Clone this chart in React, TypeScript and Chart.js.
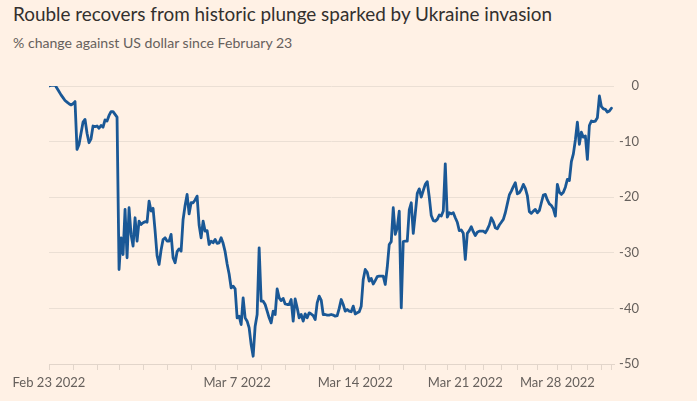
import React, { useEffect, useRef } from "react";
import { Chart, registerables } from "chart.js";

Chart.register(...registerables);

const TITLE = "Rouble recovers from historic plunge sparked by Ukraine invasion";
const SUBTITLE = "% change against US dollar since February 23";

// Trading days shown on the x axis (one tick at the start of each day)
const dayLabels = [
  "Feb 23 2022", "Feb 24 2022", "Feb 25 2022", "Feb 28 2022", "Mar 1 2022",
  "Mar 2 2022", "Mar 3 2022", "Mar 4 2022", "Mar 7 2022", "Mar 8 2022",
  "Mar 9 2022", "Mar 10 2022", "Mar 11 2022", "Mar 14 2022", "Mar 15 2022",
  "Mar 16 2022", "Mar 17 2022", "Mar 18 2022", "Mar 21 2022", "Mar 22 2022",
  "Mar 23 2022", "Mar 24 2022", "Mar 25 2022", "Mar 28 2022", "Mar 29 2022",
  "Mar 30 2022", "Mar 31 2022", "Apr 1 2022",
];

// Day labels that are printed under the axis
const shownLabels = ["Feb 23 2022", "Mar 7 2022", "Mar 14 2022", "Mar 21 2022", "Mar 28 2022"];

// y-axis tick values (% change)
const yTicks = [0, -10, -20, -30, -40, -50];

// Intraday % change against the US dollar, one list per trading day
const dayValues: number[][] = [
  [0, 0.1, 0.1, 0.2, -0.4, -1.0, -1.6, -2.1, -2.6, -2.9, -3.2, -3.4], // Feb 23
  [-3.2, -2.8, -11.4, -10.5, -8.5, -6.5, -6.0, -8.5, -10.2, -9.5, -7.2, -7.3], // Feb 24
  [-7.2, -7.6, -7.1, -7.4, -6.1, -6.3, -5.3, -4.6, -4.6, -5.1, -5.6], // Feb 25
  [-33, -27.3, -30.3, -22.2, -30.9, -21.9, -26.7, -28.8, -23.7, -27.9, -24.3, -24.9], // Feb 28
  [-24.6, -24.4, -24.5, -20.7, -22.5, -22, -26, -30.5, -32.1, -29.5, -27.6, -27.3], // Mar 1
  [-27.9, -27.9, -26.7, -30.9, -31.8, -29.8, -29.3, -29.7, -24, -21.5, -19.5, -23], // Mar 2
  [-21.0, -21, -20.5, -19.8, -25, -27.3, -24.3, -26.1, -26, -28.5, -27.9, -28.2], // Mar 3
  [-27.6, -28.3, -28.2, -27.3, -28.3, -29.8, -32, -33.8, -36.3, -36, -36.5], // Mar 4
  [-41.7, -41.4, -42.9, -38.1, -41.7, -42.3, -43.5, -46.5, -48.6, -43.2, -41.1, -29.1], // Mar 7
  [-38.7, -38.7, -39.3, -40.5, -41.7, -42.6, -40.5, -41.1, -36.5, -38.1, -38.6, -38.2], // Mar 8
  [-39.2, -39.3, -39.3, -38.4, -42.3, -38.3, -39.9, -41.7, -41.1, -42.3, -41, -41.7], // Mar 9
  [-40.8, -41, -41.3, -42, -39, -37.8, -38.5, -41.1, -41.1, -41.2, -41.2, -41.1], // Mar 10
  [-41.2, -41.4, -41.3, -40, -38.4, -39.3, -40.5, -40.2, -40.5, -40.6, -39.6], // Mar 11
  [-41, -40.8, -40.6, -39.6, -34.8, -33, -33.5, -35.1, -34.6, -35.6, -35, -34.3], // Mar 14
  [-34.2, -34.2, -34.2, -35.7, -32.6, -28.5, -28, -21.9, -26.7, -25.5, -22.5, -39.9], // Mar 15
  [-28, -27.9, -27.9, -22.3, -21, -26.5, -23, -19.3, -18.5, -20, -18.8], // Mar 16
  [-17.7, -17.2, -20, -23.3, -24.2, -24.3, -24, -23.2, -23.4, -22.5, -14], // Mar 17
  [-23.6, -22.8, -23, -22.8, -23.7, -24.5, -26, -25.9, -26.5], // Mar 18
  [-31.2, -26.5, -26, -25.3, -26.2, -26.9, -26.3, -26.1, -26.1], // Mar 21
  [-26.1, -26.4, -25.8, -25, -23.7, -24.4, -25.5, -25.7, -25], // Mar 22
  [-24.5, -24, -22.8, -21.2, -19.6, -18.9, -18.1, -17.4], // Mar 23
  [-19.4, -19.2, -18.6, -17.7, -18.4, -19.7, -22.6, -22.9, -22.5, -22.2], // Mar 24
  [-22.8, -22.4, -21, -19.6, -19.5, -20.5, -21.2, -21.5, -22.1, -23.4], // Mar 25
  [-17.7, -19.1, -19.5, -19.1, -18.2, -16.8, -17], // Mar 28
  [-13.6, -12.2, -9.7, -6.5, -10.5, -8.3, -9.2, -9], // Mar 29
  [-13.2, -7.1, -6.3, -6.4, -6.3, -5.7, -1.8], // Mar 30
  [-3.7, -4.1, -4.2, -4.7, -4.5], // Mar 31
  [-4.0], // Apr 1
];

const BG = "#FFF1E5";
const LINE = "#1A5896";
const GRID = "#EBDFD4";
const AXIS = "#E2D5CA";
const TEXT = "#33302E";
const MUTED = "#66605C";
const FONT = "Lato, 'Open Sans', sans-serif";

export default function App() {
  const canvasRef = useRef<HTMLCanvasElement | null>(null);

  useEffect(() => {
    const canvas = canvasRef.current;
    if (!canvas) return;

    const values = dayValues.flat();
    const dayStarts: number[] = [];
    let acc = 0;
    for (const d of dayValues) {
      dayStarts.push(acc);
      acc += d.length;
    }
    const points = values.map((v, i) => ({ x: i, y: v }));
    const lastIndex = values.length - 1;

    const chart = new Chart(canvas, {
      type: "line",
      data: {
        datasets: [
          {
            data: points,
            borderColor: LINE,
            borderWidth: 2.8,
            pointRadius: 0,
            tension: 0,
            fill: false,
            borderJoinStyle: "round",
            borderCapStyle: "round",
          },
        ],
      },
      options: {
        animation: false,
        responsive: false,
        devicePixelRatio: 1,
        layout: { padding: { left: 49, top: 86, right: 58, bottom: 0 } },
        plugins: {
          legend: { display: false },
          tooltip: { enabled: false },
          title: { display: false },
        },
        scales: {
          x: {
            type: "linear",
            min: 0,
            max: lastIndex + 1.3,
            afterBuildTicks: (scale: any) => {
              scale.ticks = dayStarts.map((v) => ({ value: v }));
            },
            afterFit: (scale: any) => {
              scale.height = 37;
            },
            grid: {
              display: true,
              drawOnChartArea: false,
              drawTicks: true,
              tickLength: 6,
              color: AXIS,
              lineWidth: 1,
            },
            border: { display: true, color: AXIS, width: 1 },
            ticks: {
              autoSkip: false,
              maxRotation: 0,
              minRotation: 0,
              padding: 5,
              color: MUTED,
              font: { family: FONT, size: 13 },
              callback: (_v: any, index: number) => {
                const lbl = dayLabels[index];
                return shownLabels.includes(lbl) ? lbl : "";
              },
            },
          },
          y: {
            type: "linear",
            position: "right",
            min: yTicks[yTicks.length - 1],
            max: yTicks[0],
            afterBuildTicks: (scale: any) => {
              scale.ticks = yTicks.map((v) => ({ value: v }));
            },
            afterFit: (scale: any) => {
              scale.width = 25;
            },
            grid: {
              display: true,
              drawTicks: false,
              color: GRID,
              lineWidth: 1,
            },
            border: { display: false },
            ticks: {
              crossAlign: "far",
              padding: 0,
              color: MUTED,
              font: { family: FONT, size: 13 },
              callback: (v: any) => String(v),
            },
          },
        },
      },
    } as any);

    return () => chart.destroy();
  }, []);

  return (
    <div
      style={{
        position: "fixed",
        left: 0,
        top: 0,
        width: 697,
        height: 401,
        background: BG,
        overflow: "hidden",
      }}
    >
      <div
        style={{
          position: "absolute",
          left: 13,
          top: 2,
          fontFamily: FONT,
          fontSize: 18.9,
          lineHeight: "24px",
          color: TEXT,
          whiteSpace: "nowrap",
        }}
      >
        {TITLE}
      </div>
      <div
        style={{
          position: "absolute",
          left: 13,
          top: 34,
          fontFamily: FONT,
          fontSize: 14.1,
          lineHeight: "18px",
          color: MUTED,
          whiteSpace: "nowrap",
        }}
      >
        {SUBTITLE}
      </div>
      <canvas
        ref={canvasRef}
        width={697}
        height={401}
        style={{ position: "absolute", left: 0, top: 0, width: 697, height: 401 }}
      />
    </div>
  );
}
